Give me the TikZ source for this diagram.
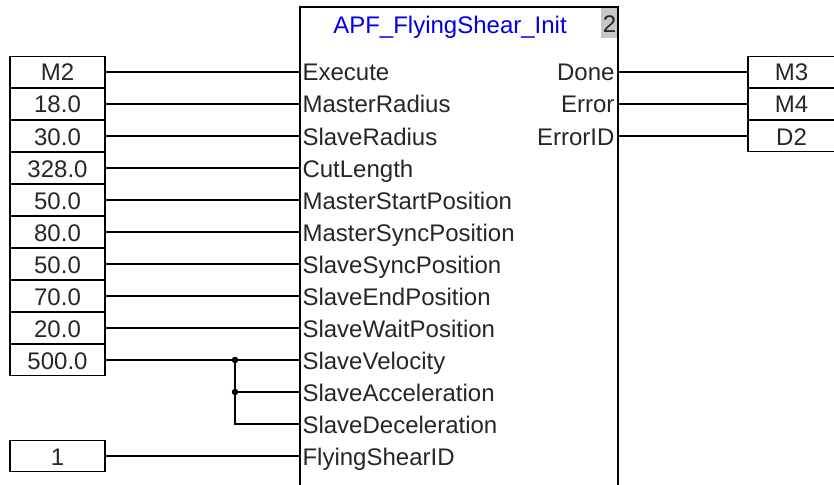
\documentclass[tikz,border=0pt]{standalone}
\usepackage{fontspec}
\setmainfont{Liberation Sans}
\begin{document}
\begin{tikzpicture}[x=1pt,y=-1pt,
  line width=1.1pt,
  lbl/.style={font=\fontsize{24}{26}\selectfont, inner sep=0pt, text=black!85,
    text height=22pt, text depth=4pt},
  valbox/.style={draw, lbl, minimum width=95pt, minimum height=31pt, anchor=center},
  pinlbl/.style={lbl, anchor=west},
  outlbl/.style={lbl, anchor=east},
  wire/.style={line width=1.1pt},
  junct/.style={circle, fill=black, inner sep=0pt, minimum size=6.5pt}
]
\useasboundingbox (0,0) rectangle (834,484);
\clip (0,0) rectangle (834,484);

% function block (open at bottom)
\fill[black!22] (601,7) rectangle (618,38);
\draw (300,490) -- (300,7) -- (618,7) -- (618,490);
\node[lbl, text=blue!90!black] (title) at (450,25) {APF\_FlyingShear\_Init};
\node[lbl] (inst) at (609.5,24) {2};

% input pins
\foreach \i/\name/\val in {0/Execute/M2, 1/MasterRadius/18.0, 2/SlaveRadius/30.0,
  3/CutLength/328.0, 4/MasterStartPosition/50.0, 5/MasterSyncPosition/80.0,
  6/SlaveSyncPosition/50.0, 7/SlaveEndPosition/70.0, 8/SlaveWaitPosition/20.0,
  9/SlaveVelocity/500.0} {
  \coordinate (pin\i) at (300,72+32*\i);
  \node[pinlbl] (lab\i) at (302,72+32*\i) {\name};
  \node[valbox] (in\i) at (57.5,72+32*\i) {\val};
  \draw[wire] (in\i.east) -- (pin\i);
}
\coordinate (pin10) at (300,392);
\node[pinlbl] (lab10) at (302,392) {SlaveAcceleration};
\coordinate (pin11) at (300,424);
\node[pinlbl] (lab11) at (302,424) {SlaveDeceleration};
\coordinate (pin12) at (300,456);
\node[pinlbl] (lab12) at (302,456) {FlyingShearID};
\node[valbox] (in12) at (57.5,456) {1};
\draw[wire] (in12.east) -- (pin12);

% branching of 500.0
\node[junct] (j1) at (235,360) {};
\node[junct] (j2) at (235,392) {};
\coordinate (j3) at (235,424);
\draw[wire] (j1.center) -- (j2.center) -- (j3) -- (pin11);
\draw[wire] (j2.center) -- (pin10);

% outputs
\foreach \i/\name/\val in {0/Done/M3, 1/Error/M4, 2/ErrorID/D2} {
  \coordinate (opin\i) at (618,72+32*\i);
  \node[outlbl] (olab\i) at (615,72+32*\i) {\name};
  \node[valbox] (out\i) at (795.5,72+32*\i) {\hspace*{-8pt}\val};
  \draw[wire] (opin\i) -- (out\i.west);
}
\end{tikzpicture}
\end{document}
